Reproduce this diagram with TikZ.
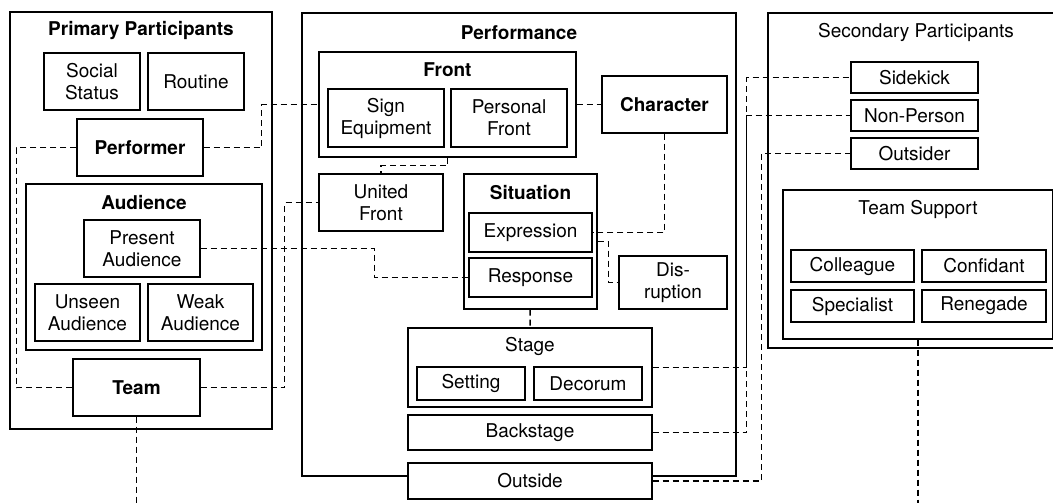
\documentclass[tikz,border=0pt]{standalone}
\usepackage{fontspec}
\setmainfont{TeX Gyre Heros}
\usetikzlibrary{positioning}

\begin{document}
\begin{tikzpicture}[x=1pt,y=-1pt,on grid,
  every node/.style={font=\fontsize{19}{22}\selectfont},
  box/.style 2 args={draw,fill=white,line width=1.3pt,align=center,inner sep=0pt,
    minimum width=#1pt,minimum height=#2pt},
  strong/.style={font=\fontsize{19}{22}\selectfont\bfseries},
  link/.style={line width=1.5pt,dash pattern=on 6pt off 4pt}]
\useasboundingbox (0,0) rectangle (1053,503);
\clip (0,0) rectangle (1053,503);
% groups
\node[box={262}{417}] (prim) at (141,220.5) {};
\node[box={434}{463}] (perf) at (519,244.5) {};
\node[box={296}{335}] (sec) at (916,180.5) {};
\node[strong] (primtitle) [below=19pt of prim.north,anchor=center] {Primary Participants};
\node[strong] (perftitle) [below=20pt of perf.north,anchor=center] {Performance};
\node (sectitle) [below=20pt of sec.north,anchor=center] {Secondary Participants};
% primary participants
\node[box={96}{57}] (social) at (92,81.5) {Social\\Status};
\node[box={96}{57}] (routine) [right=104pt of social] {Routine};
\node[box={126}{57},strong] (performer) at (140,147.5) {Performer};
\node[box={236}{166}] (aud) at (144,267) {};
\node[strong] (audtitle) [below=19pt of aud.north,anchor=center] {Audience};
\node[box={116}{57}] (present) at (142,248.5) {Present\\Audience};
\node[box={105}{57}] (unseen) at (87.5,312.5) {Unseen\\Audience};
\node[box={105}{57}] (weak) [right=113pt of unseen] {Weak\\Audience};
\node[box={127}{57},strong] (team) at (136.5,387.5) {Team};
\coordinate (teamend) at (136.5,510);
% performance
\node[box={257}{105}] (front) at (447.5,104.5) {};
\node[strong] (fronttitle) [below=18pt of front.north,anchor=center] {Front};
\node[box={116}{58}] (signeq) at (386,118) {Sign\\Equipment};
\node[box={116}{58}] (persfront) [right=123pt of signeq] {Personal\\Front};
\node[box={125}{57},strong] (character) at (664.5,104.5) {Character};
\node[box={124}{57}] (united) at (381,202.5) {United\\Front};
\node[box={133}{135}] (situation) at (530.5,241.5) {};
\node[strong] (sittitle) [below=19pt of situation.north,anchor=center] {Situation};
\node[box={123}{39}] (expression) at (530.5,232.5) {Expression};
\node[box={123}{39}] (response) [below=45pt of expression] {Response};
\node[box={108}{53}] (disruption) at (673,282.5) {Dis-\\ruption};
\node[box={244}{79}] (stage) at (530,367.5) {};
\node (stagetitle) [below=19pt of stage.north,anchor=center] {Stage};
\node[box={108}{33}] (setting) at (471,383.5) {Setting};
\node[box={108}{33}] (decorum) [right=117pt of setting] {Decorum};
\node[box={244}{35}] (backstage) [below=65pt of stage] {Backstage};
\node[box={244}{36}] (outside) at (530,481) {Outside};
% secondary participants
\node[box={127}{31}] (sidekick) at (914.5,77.5) {Sidekick};
\node[box={127}{31}] (nonperson) [below=38pt of sidekick] {Non-Person};
\node[box={127}{31}] (outsider) [below=38pt of nonperson] {Outsider};
\node[box={270}{149}] (teamsup) at (918,264.5) {};
\node (tstitle) [below=20pt of teamsup.north,anchor=center] {Team Support};
\node[box={123}{32}] (colleague) at (852.5,266) {Colleague};
\node[box={124}{32}] (confidant) [right=131.5pt of colleague] {Confidant};
\node[box={123}{32}] (specialist) [below=40pt of colleague] {Specialist};
\node[box={124}{32}] (renegade) [below=40pt of confidant] {Renegade};
\coordinate (tsend) at (918,510);
% links
\draw[link] (performer.west) -- ++(-60,0) |- (team.west);
\draw[link] (performer.east) -- ++(58,0) |- (front.west);
\draw[link] (team.east) -- ++(84,0) |- (united.west);
\draw[link] (present.east) -- ++(174,0) |- (response.west);
\draw[link] (front.south) -- ++(0,8) -| (united.north);
\draw[link] (character.south) |- (expression.east);
\draw[link] (situation.east) -- ++(11,0) |- (disruption.west);
\draw[link] (stage.east) -- ++(94,0) |- (sidekick.west);
\draw[link] (backstage.east) -- ++(94,0) |- (nonperson.west);
\draw[link] (outside.east) -- ++(109,0) |- (outsider.west);
\path[link]
(front) edge (character)
(situation) edge (stage)
(team) edge (teamend)
(teamsup) edge (tsend);
\end{tikzpicture}
\end{document}
